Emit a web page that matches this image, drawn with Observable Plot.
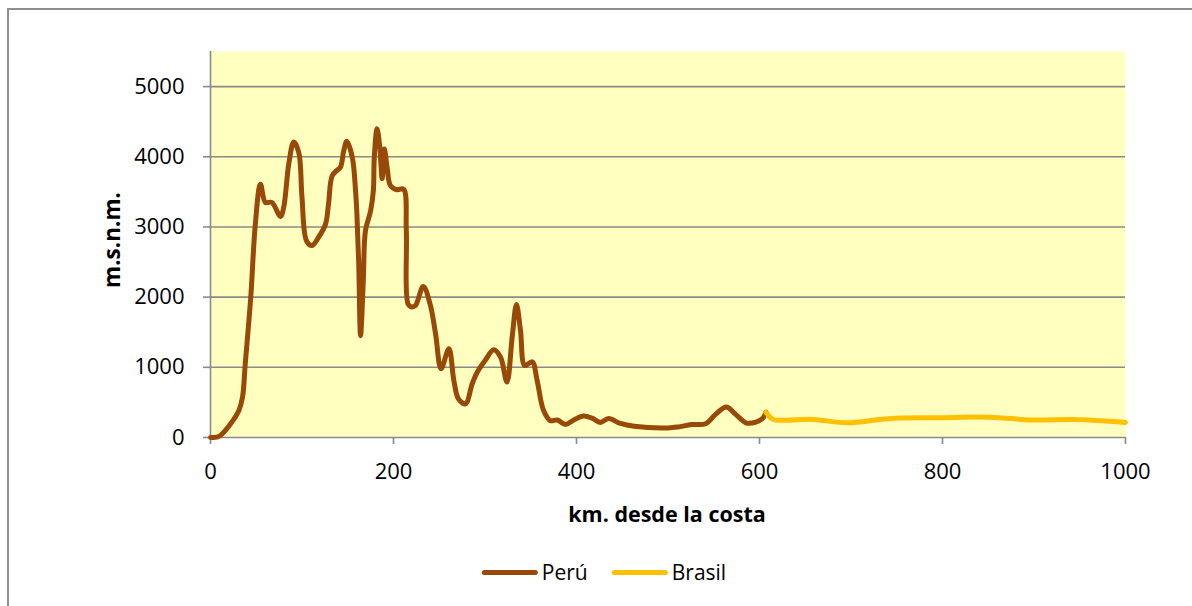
<!DOCTYPE html>
<html>
<head>
<meta charset="utf-8">
<script src="https://cdn.jsdelivr.net/npm/d3@7"></script>
<script src="https://cdn.jsdelivr.net/npm/@observablehq/plot@0.6"></script>
<style>
  html, body { margin:0; padding:0; width:1192px; height:606px; overflow:hidden; background:#fff; }
  #wrap { position:relative; width:1192px; height:606px; font-family:"Open Sans", sans-serif; }
  #border { position:absolute; left:7px; top:8px; width:1200px; height:620px; border:2px solid #8e8e8e; box-sizing:border-box; }
  #chart { position:absolute; left:0; top:0; }
  .xlab { position:absolute; left:667px; top:513px; transform:translate(-50%,-50%); font-weight:bold; font-size:21.5px; white-space:nowrap; color:#000; }
  .ylab { position:absolute; left:111px; top:240px; transform:translate(-50%,-50%) rotate(-90deg); font-weight:bold; font-size:22.5px; white-space:nowrap; color:#000; }
  #legend { position:absolute; left:604px; top:572px; transform:translate(-50%,-50%); display:flex; align-items:center; font-size:21px; color:#000; white-space:nowrap; }
  .sw { display:inline-block; width:56px; height:5px; border-radius:3px; margin-right:4px; }
  .item { display:flex; align-items:center; margin:0 12px; }
</style>
</head>
<body>
<div id="wrap">
  <div id="border"></div>
  <div id="chart"></div>
  <div class="ylab">m.s.n.m.</div>
  <div class="xlab">km. desde la costa</div>
  <div id="legend"></div>
</div>
<script>
// --- data ---
const seriesNames = ["Perú", "Brasil"];
const seriesColors = ["#984807", "#FFC000"];

const peruKm = [0, 8, 11, 22, 31, 35, 38, 44, 49, 54.6, 60, 67, 76.5, 80, 85.6, 91, 96.5, 100, 105, 111, 118, 125.7, 129, 133, 138.5, 142, 145.7, 149, 155, 158.5, 160, 162, 164, 167, 169.4, 175, 178, 179, 182, 185, 187.6, 190, 193, 196.7, 204, 211, 214, 216, 220, 224, 232.5, 240, 246, 252, 260.5, 266, 271, 278.7, 286, 291.5, 300.5, 309.6, 317, 324, 329.7, 334.4, 338.8, 343.5, 351.5, 357, 364, 371.6, 379, 388, 397, 408, 417, 426, 435, 448, 463, 500, 511, 526, 541, 552, 563.7, 574, 585, 596, 604, 607];
const peruM  = [0, 10, 30, 195, 385, 575, 1050, 2000, 3040, 3610, 3350, 3350, 3150, 3280, 3900, 4210, 4060, 3420, 2800, 2735, 2850, 3040, 3330, 3730, 3810, 3850, 4090, 4220, 3990, 3520, 3190, 2470, 1450, 2240, 2950, 3230, 3520, 3990, 4400, 4140, 3690, 4110, 3850, 3590, 3530, 3540, 2950, 1900, 1860, 1880, 2150, 1900, 1475, 980, 1265, 810, 550, 480, 765, 930, 1105, 1250, 1145, 790, 1430, 1895, 1525, 1025, 1080, 810, 385, 240, 250, 185, 250, 305, 275, 215, 270, 200, 160, 137, 150, 185, 195, 330, 435, 330, 210, 220, 280, 360];

const brasilKm = [607, 614.7, 629.5, 655, 696, 740.5, 796, 851, 899, 944, 1000];
const brasilM  = [360, 260, 245, 260, 210, 268, 282, 290, 250, 255, 215];

const xTicks = [0, 200, 400, 600, 800, 1000];
const yTicks = [0, 1000, 2000, 3000, 4000, 5000];
const gridTicks = [1000, 2000, 3000, 4000, 5000];

const peru = peruKm.map((k, i) => ({km: k, m: peruM[i]}));
const brasil = brasilKm.map((k, i) => ({km: k, m: brasilM[i]}));

const gray = "#8a8a8a";

const chart = Plot.plot({
  width: 1192,
  height: 490,
  marginLeft: 210,
  marginRight: 67,
  marginTop: 51,
  marginBottom: 53,
  style: {fontFamily: "'Open Sans', sans-serif", fontSize: "22px", color: "#000", background: "transparent", overflow: "visible"},
  x: {domain: [0, 1000], label: null},
  y: {domain: [0, 5500], label: null},
  marks: [
    Plot.frame({fill: "#FFFFC0", stroke: null}),
    Plot.gridY(gridTicks, {stroke: gray, strokeOpacity: 1, strokeWidth: 1.6}),
    Plot.ruleY([0], {stroke: gray, strokeWidth: 1.6}),
    Plot.ruleX([0], {stroke: gray, strokeWidth: 1.6}),
    Plot.axisX(xTicks, {tickSize: 7, tickPadding: 19, stroke: gray, strokeWidth: 1.6, fill: "#000", tickFormat: d => String(d), label: null}),
    Plot.axisY(yTicks, {tickSize: 7, tickPadding: 19, stroke: gray, strokeWidth: 1.6, fill: "#000", tickFormat: d => String(d), label: null}),
    Plot.line(peru, {x: "km", y: "m", stroke: seriesColors[0], strokeWidth: 5, curve: "catmull-rom", strokeLinecap: "round", strokeLinejoin: "round"}),
    Plot.line(brasil, {x: "km", y: "m", stroke: seriesColors[1], strokeWidth: 5, curve: "catmull-rom", strokeLinecap: "round", strokeLinejoin: "round"})
  ]
});
document.getElementById("chart").appendChild(chart);

const legend = document.getElementById("legend");
seriesNames.forEach((n, i) => {
  const it = document.createElement("span");
  it.className = "item";
  const sw = document.createElement("span");
  sw.className = "sw";
  sw.style.background = seriesColors[i];
  const t = document.createElement("span");
  t.textContent = n;
  it.appendChild(sw);
  it.appendChild(t);
  legend.appendChild(it);
});
</script>
</body>
</html>
